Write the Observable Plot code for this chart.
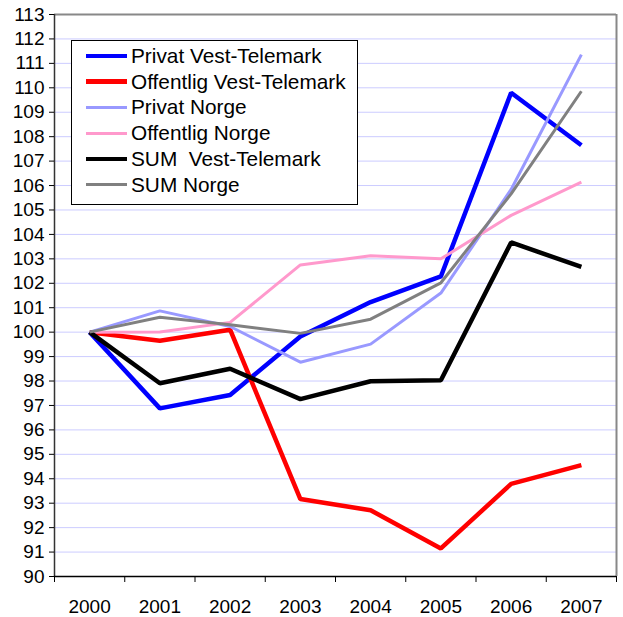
<!DOCTYPE html>
<html>
<head>
<meta charset="utf-8">
<script src="https://cdn.jsdelivr.net/npm/d3@7"></script>
<script src="https://cdn.jsdelivr.net/npm/@observablehq/plot@0.6"></script>
<style>
  html, body { margin: 0; padding: 0; background: white; }
  #wrap { position: relative; width: 623px; height: 617px; font-family: "Liberation Sans", Arial, sans-serif; }
  #legend { position: absolute; left: 71px; top: 40px; width: 285px; height: 161px; border: 1px solid #000; background: white; padding-top: 2px; box-sizing: content-box; }
  .row { height: 25.8px; display: flex; align-items: center; font-size: 20.8px; color: #000; white-space: pre; }
  .sw { width: 41px; margin-left: 14px; margin-right: 4px; flex: none; }
</style>
</head>
<body>
<div id="wrap"><div id="chart"></div><div id="legend"></div></div>
<script>
const years = [2000, 2001, 2002, 2003, 2004, 2005, 2006, 2007];
const seriesNames = ["Privat Vest-Telemark", "Offentlig Vest-Telemark", "Privat Norge", "Offentlig Norge", "SUM  Vest-Telemark", "SUM Norge"];
const privatVestTelemark    = [100, 96.88, 97.43, 99.82, 101.23, 102.28, 109.8, 107.65];
const offentligVestTelemark = [100, 99.65, 100.1, 93.17, 92.71, 91.15, 93.79, 94.56];
const privatNorge           = [100, 100.87, 100.23, 98.77, 99.51, 101.6, 105.84, 111.36];
const offentligNorge        = [100, 100.01, 100.4, 102.75, 103.13, 103.0, 104.78, 106.14];
const sumVestTelemark       = [100, 97.91, 98.5, 97.26, 97.99, 98.03, 103.67, 102.67];
const sumNorge              = [100, 100.61, 100.3, 99.95, 100.53, 102.02, 105.66, 109.86];
const yTicks = d3.range(90, 114);

const seriesValues = [privatVestTelemark, offentligVestTelemark, privatNorge, offentligNorge, sumVestTelemark, sumNorge];
const colors = ["#0000ff", "#ff0000", "#9999ff", "#ff99cc", "#000000", "#808080"];
const widths = [4.5, 4.5, 3, 3, 4.5, 3];

const boundaries = [...years.map(y => y - 0.5), years[years.length - 1] + 0.5];

const lines = seriesValues.map((vals, i) =>
  Plot.line(years.map((yr, j) => ({year: yr, value: vals[j]})), {
    x: "year", y: "value", stroke: colors[i], strokeWidth: widths[i],
    strokeLinejoin: "miter", strokeLinecap: "butt"
  })
);

const chart = Plot.plot({
  width: 623, height: 617,
  marginLeft: 54, marginRight: 7, marginTop: 14, marginBottom: 41,
  x: {domain: [boundaries[0], boundaries[boundaries.length - 1]]},
  y: {domain: [90, 113]},
  style: {fontFamily: "'Liberation Sans', Arial, sans-serif", fontSize: "19px", background: "white", color: "#000", overflow: "visible"},
  marks: [
    Plot.ruleY(yTicks.filter(v => v > 90 && v < 113), {stroke: "#ccccff", strokeWidth: 1}),
    Plot.ruleY([113], {stroke: "#888888", strokeWidth: 2}),
    Plot.ruleX([boundaries[boundaries.length - 1]], {stroke: "#888888", strokeWidth: 2}),
    ...lines,
    Plot.ruleX([boundaries[0]], {stroke: "#333333", strokeWidth: 1.5}),
    Plot.ruleY([90], {stroke: "#000000", strokeWidth: 1.5}),
    Plot.axisY({ticks: yTicks, tickSize: 5, tickPadding: 5, label: null, tickFormat: d => String(d), fontSize: 19}),
    Plot.axisX({ticks: boundaries, tickSize: 6, label: null, tickFormat: () => ""}),
    Plot.axisX({ticks: years, tickSize: 0, tickPadding: 23, label: null, tickFormat: d => String(d), fontSize: 19})
  ]
});
document.getElementById("chart").appendChild(chart);

const legend = document.getElementById("legend");
seriesNames.forEach((name, i) => {
  const row = document.createElement("div");
  row.className = "row";
  const sw = document.createElement("span");
  sw.className = "sw";
  sw.style.height = widths[i] + "px";
  sw.style.background = colors[i];
  const t = document.createElement("span");
  t.textContent = name;
  row.appendChild(sw);
  row.appendChild(t);
  legend.appendChild(row);
});
</script>
</body>
</html>
